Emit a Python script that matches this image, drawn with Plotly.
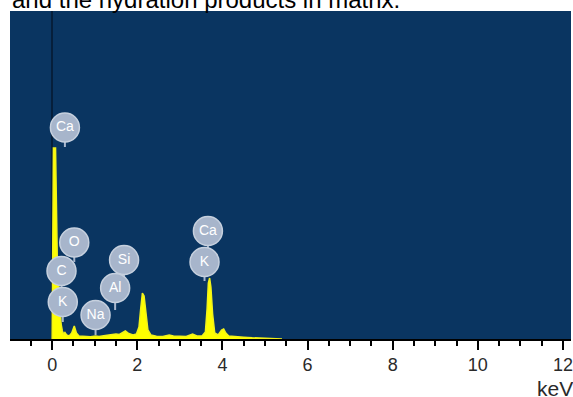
import plotly.graph_objects as go

# Spectrum (energy in keV, counts)
energy_kev = [0.00, 0.01, 0.03, 0.08, 0.10, 0.11, 0.13, 0.16, 0.18, 0.21, 0.24, 0.27, 0.30, 0.34,
              0.40, 0.46, 0.52, 0.57, 0.63, 0.75, 0.90, 1.02, 1.10, 1.25, 1.40, 1.50, 1.58, 1.64,
              1.72, 1.80, 1.90, 1.98, 2.04, 2.08, 2.12, 2.16, 2.20, 2.25, 2.32, 2.45, 2.60, 2.75,
              2.85, 3.00, 3.15, 3.30, 3.40, 3.52, 3.60, 3.64, 3.67, 3.70, 3.73, 3.77, 3.82, 3.90,
              3.98, 4.03, 4.08, 4.15, 4.30, 4.50, 4.70, 4.90, 5.10, 5.40]
counts = [0, 700, 1910, 1910, 1300, 700, 560, 520, 300, 150, 80, 50, 65, 40,
          30, 60, 130, 60, 30, 25, 22, 30, 25, 35, 40, 50, 45, 60,
          80, 55, 40, 50, 120, 300, 460, 430, 250, 90, 40, 28, 25, 40,
          30, 25, 25, 50, 30, 30, 70, 300, 560, 610, 520, 250, 60, 40,
          90, 100, 60, 30, 22, 18, 12, 8, 5, 0]

# Element labels
label_text = ["Ca", "O", "C", "K", "Si", "Al", "Na", "Ca", "K"]
label_energy = [0.30, 0.52, 0.22, 0.25, 1.69, 1.48, 1.02, 3.66, 3.58]
label_count = [2115, 965, 680, 370, 790, 510, 240, 1080, 770]
stem_end_count = [1920, 770, 490, 170, 610, 290, 40, 890, 580]

tick_values = [0, 2, 4, 6, 8, 10, 12]
x_range = [-0.99, 12.19]
y_range = [0, 3280]

fig = go.Figure()

fig.add_trace(go.Scatter(
    x=energy_kev, y=counts, mode="lines", fill="tozeroy",
    line=dict(color="#F2F21A", width=1.5), fillcolor="#FFFF00",
    hoverinfo="skip", showlegend=False))

stem_x, stem_y = [], []
for e, c, s in zip(label_energy, label_count, stem_end_count):
    stem_x += [e, e, None]
    stem_y += [c, s, None]
fig.add_trace(go.Scatter(
    x=stem_x, y=stem_y, mode="lines",
    line=dict(color="#A9B7CD", width=2), hoverinfo="skip", showlegend=False))

fig.add_trace(go.Scatter(
    x=label_energy, y=label_count, mode="markers+text", text=label_text,
    textposition="middle center",
    textfont=dict(color="white", size=14, family="Liberation Sans, Arial"),
    marker=dict(size=29, color="#A7B5CB", line=dict(color="#C6D0DE", width=1.5)),
    hoverinfo="skip", showlegend=False))

fig.update_layout(
    width=573, height=397,
    margin=dict(l=10, r=0, t=11, b=58),
    paper_bgcolor="white", plot_bgcolor="#0A3561",
    font=dict(family="Liberation Sans, Arial", color="#333"),
    xaxis=dict(range=x_range, tickvals=tick_values, ticks="outside", ticklen=9,
               tickwidth=1.5, tickcolor="black", showline=True, linecolor="black",
               linewidth=1.5, showgrid=False, zeroline=True, zerolinecolor="#061f3b",
               zerolinewidth=2, tickfont=dict(size=18, color="#2a2a2a"),
               ticklabeloverflow="allow",
               minor=dict(dtick=0.5, tick0=0, ticks="outside", ticklen=5,
                          tickwidth=1.5, tickcolor="black", showgrid=False)),
    yaxis=dict(range=y_range, visible=False, showgrid=False, zeroline=False),
    annotations=[
        dict(text="and the hydration products in matrix.", xref="paper", yref="paper",
             x=0, y=1, xanchor="left", yanchor="bottom", showarrow=False,
             yshift=-4, font=dict(size=24, color="black", family="Liberation Sans, Arial")),
        dict(text="keV", xref="paper", yref="paper", x=0.935, y=-0.152,
             xanchor="left", yanchor="middle", showarrow=False,
             font=dict(size=21, color="#2a2a2a", family="Liberation Sans, Arial")),
    ],
)

fig.write_html("out.html")
